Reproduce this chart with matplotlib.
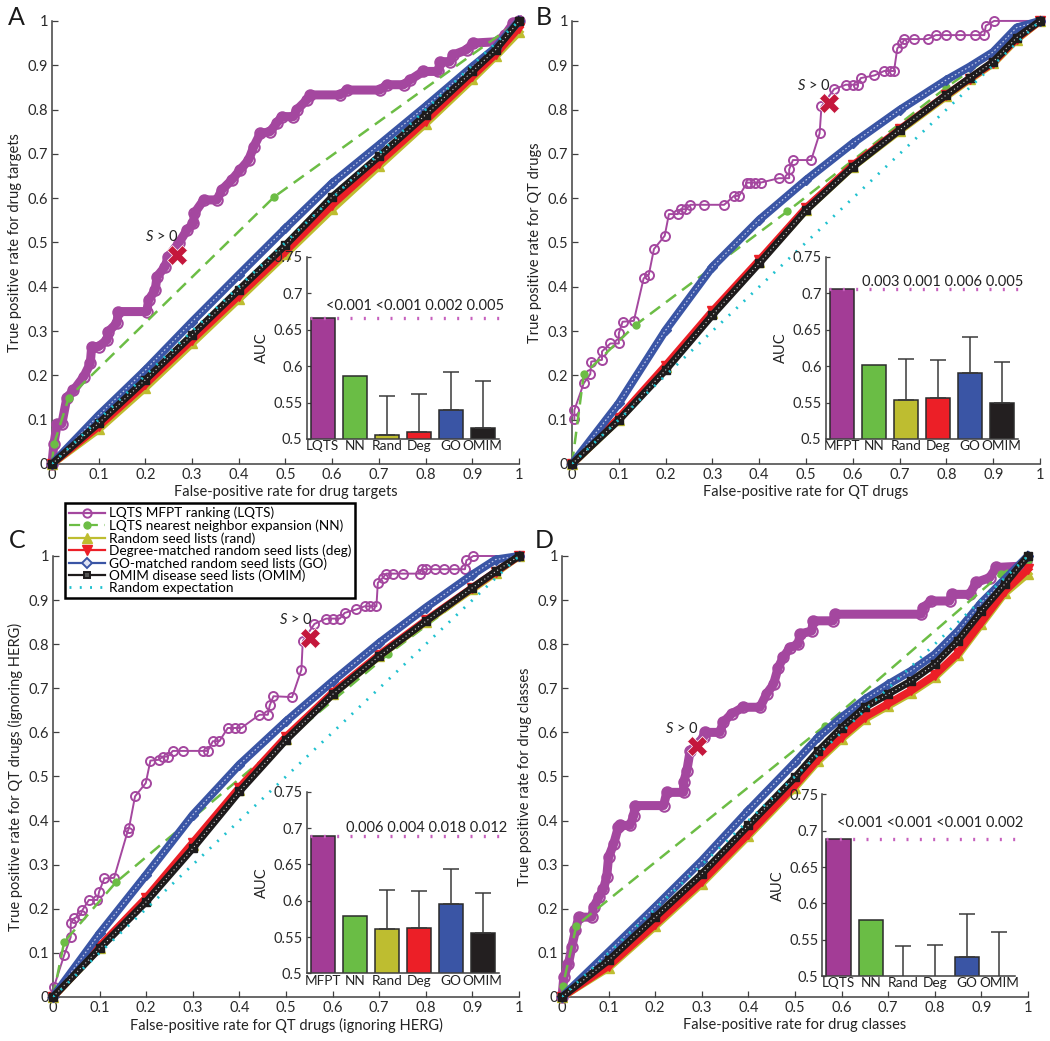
import matplotlib
matplotlib.use("Agg")
import matplotlib.pyplot as plt
from matplotlib.lines import Line2D
import numpy as np

plt.rcParams["font.family"] = ["Lato", "DejaVu Sans"]
plt.rcParams["mathtext.fontset"] = "custom"
plt.rcParams["mathtext.it"] = "Lato:italic"
plt.rcParams["mathtext.rm"] = "Lato"

# ---------------- data ----------------
TICKS = [0, 0.1, 0.2, 0.3, 0.4, 0.5, 0.6, 0.7, 0.8, 0.9, 1.0]
AUC_TICKS = [0.5, 0.55, 0.6, 0.65, 0.7, 0.75]

# Panel A - drug targets
A_FPR = [0, 0.1, 0.2, 0.3, 0.4, 0.5, 0.6, 0.7, 0.8, 0.9, 0.95, 1.0]
A_GO = [0, .11, .212, .321, .427, .532, .634, .72, .807, .897, .94, 1.0]
A_OMIM = [0, .092, .19, .291, .393, .494, .603, .694, .788, .886, .935, 1.0]
A_DEG = [0, .085, .18, .28, .38, .48, .585, .68, .775, .875, .925, .985]
A_RAND = [0, .078, .172, .272, .372, .473, .575, .672, .768, .868, .92, .975]
A_LQTS_X = [0, .004, .011, .021, .032, .046, .068, .082, .085, .10, .118, .121, .139, .142,
            .203, .207, .221, .225, .242, .249, .271, .289, .303, .305, .325, .353, .364,
            .385, .403, .421, .432, .446, .467, .481, .492, .517, .524, .546, .553, .617,
            .631, .702, .717, .753, .767, .795, .827, .831, .852, .859, .888, .902, .952,
            .970, .988, 1.0]
A_LQTS_Y = [0, .044, .09, .09, .15, .166, .197, .227, .265, .265, .28, .299, .318, .344,
            .344, .37, .393, .423, .445, .468, .498, .528, .543, .566, .596, .596, .619,
            .641, .664, .686, .716, .746, .75, .769, .784, .784, .799, .822, .833, .833,
            .844, .844, .856, .856, .867, .886, .886, .908, .908, .923, .935, .95, .953,
            .968, .995, 1.0]
A_NN_X = [0, .004, .036, .476, 1.0]
A_NN_Y = [0, .044, .15, .603, 1.0]
A_CROSS = (.267, .472)

# Panel B - QT drugs
B_FPR = [0, 0.1, 0.2, 0.3, 0.4, 0.5, 0.6, 0.7, 0.8, 0.85, 0.9, 0.95, 1.0]
B_GO = [0, .137, .302, .445, .551, .641, .724, .799, .867, .897, .93, .985, 1.0]
B_OMIM = [0, .099, .212, .336, .453, .573, .671, .754, .833, .871, .908, .962, 1.0]
B_DEG = [0, .104, .222, .345, .46, .578, .674, .755, .833, .87, .906, .96, 1.0]
B_RAND = [0, .1, .218, .34, .456, .574, .671, .752, .83, .868, .904, .958, 1.0]
B_LQTS_X = [.005, .005, .025, .039, .041, .064, .064, .082, .1, .1, .108, .132, .153, .164,
            .175, .198, .207, .226, .232, .243, .253, .282, .325, .346, .357, .374, .38,
            .39, .403, .442, .464, .464, .472, .511, .529, .533, .560, .585, .60, .610,
            .617, .646, .667, .68, .688, .695, .706, .71, .73, .76, .777, .80, .83, .86,
            .881, .884, .902, 1.0]
B_LQTS_Y = [.101, .122, .182, .203, .231, .235, .254, .272, .272, .295, .321, .323, .419,
            .427, .485, .515, .564, .564, .575, .575, .585, .585, .585, .605, .605, .635,
            .635, .635, .635, .645, .645, .665, .686, .686, .746, .807, .846, .856, .856,
            .856, .871, .877, .887, .887, .887, .938, .950, .959, .959, .959, .968, .968,
            .968, .968, .968, .989, 1.0, 1.0]
B_NN_X = [0, .025, .136, .46, .80, 1.0]
B_NN_Y = [0, .202, .314, .57, .85, 1.0]
B_CROSS = (.549, .814)

# Panel C - QT drugs ignoring HERG
C_FPR = [0, 0.1, 0.2, 0.3, 0.4, 0.5, 0.6, 0.7, 0.8, 0.9, 0.95, 1.0]
C_GO = [0, .144, .277, .413, .527, .625, .716, .803, .883, .958, .992, 1.0]
C_OMIM = [0, .11, .216, .337, .466, .583, .686, .773, .852, .928, .965, 1.0]
C_DEG = [0, .115, .225, .35, .475, .59, .69, .776, .854, .928, .964, 1.0]
C_RAND = [0, .112, .22, .345, .47, .586, .687, .773, .851, .925, .962, 1.0]
C_LQTS_X = [.002, .024, .038, .038, .045, .059, .063, .077, .095, .099, .11, .131, .16,
            .163, .176, .199, .209, .228, .235, .246, .257, .278, .321, .332, .343, .357,
            .375, .39, .404, .443, .461, .465, .473, .513, .533, .536, .561, .586, .60,
            .615, .626, .651, .669, .68, .694, .697, .708, .715, .73, .75, .787, .791,
            .80, .82, .84, .86, .884, .887, .902, 1.0]
C_LQTS_Y = [.023, .095, .136, .167, .178, .186, .197, .22, .22, .239, .269, .27, .375,
            .383, .455, .485, .536, .538, .545, .545, .558, .558, .558, .558, .58, .58,
            .61, .61, .61, .64, .64, .661, .682, .68, .742, .807, .846, .858, .858, .858,
            .871, .879, .886, .886, .886, .939, .951, .96, .96, .96, .96, .97, .97, .97,
            .97, .97, .97, .99, 1.0, 1.0]
C_NN_X = [0, .024, .135, .719, 1.0]
C_NN_Y = [0, .125, .26, .777, 1.0]
C_CROSS = (.552, .814)

# Panel D - drug classes
D_FPR = [0, .1, .2, .3, .4, .5, .55, .6, .65, .7, .75, .8, .85, .9, .95, 1.0]
D_GO = [0, .102, .204, .309, .423, .532, .589, .634, .675, .709, .74, .777, .83, .894, .947, 1.0]
D_OMIM = [0, .083, .181, .279, .389, .498, .558, .611, .657, .687, .717, .755, .808, .875, .936, 1.0]
D_DEG = [0, .07, .165, .262, .37, .48, .54, .59, .635, .665, .695, .73, .78, .85, .92, .97]
D_RAND = [0, .066, .16, .257, .365, .475, .535, .585, .63, .66, .69, .725, .775, .845, .915, .96]
D_LQTS_X = [0, .004, .014, .021, .029, .036, .064, .068, .079, .089, .096, .1, .111, .121,
            .125, .146, .154, .157, .218, .225, .261, .261, .268, .275, .304, .307, .339,
            .346, .364, .389, .425, .439, .454, .464, .475, .489, .507, .511, .536, .539,
            .582, .586, .771, .775, .793, .832, .836, .875, .889, .918, .932, .986, .996]
D_LQTS_Y = [0, .045, .075, .113, .151, .181, .181, .204, .226, .245, .272, .317, .347, .385,
            .389, .389, .411, .434, .434, .464, .464, .487, .513, .558, .589, .6, .6, .623,
            .642, .657, .657, .687, .709, .747, .77, .792, .8, .823, .83, .853, .853, .868,
            .868, .883, .898, .898, .913, .913, .94, .951, .974, .977, .989]
D_NN_X = [0, .002, .031, .564, .943, 1.0]
D_NN_Y = [0, .026, .162, .615, .96, .99]
D_CROSS = (.289, .568)

# inset AUC bars (bar value, top of error bar)
LABELS_LQTS = ["LQTS", "NN", "Rand", "Deg", "GO", "OMIM"]
LABELS_MFPT = ["MFPT", "NN", "Rand", "Deg", "GO", "OMIM"]
A_AUC = [.666, .587, .505, .510, .540, .515]
A_ERR = [.559, .562, .592, .580]
A_P = "<0.001 <0.001 0.002 0.005"
B_AUC = [.706, .602, .554, .556, .590, .550]
B_ERR = [.610, .608, .640, .606]
B_P = "0.003 0.001 0.006 0.005"
C_AUC = [.689, .579, .561, .563, .596, .556]
C_ERR = [.615, .613, .644, .611]
C_P = "0.006 0.004 0.018 0.012"
D_AUC = [.689, .577, .49, .49, .526, .49]
D_ERR = [.542, .543, .586, .560]
D_P = "<0.001 <0.001 <0.001 0.002"

# ---------------- style ----------------
PURPLE = "#a4479f"
GREEN = "#6cbd45"
OLIVE = "#bebd30"
RED = "#ec1f27"
BLUE = "#3a55a5"
BLACK = "#1e1b1c"
CYAN = "#1fc1cf"
CROSS_RED = "#c4173c"
BAR_COLORS = ["#a33c96", "#6abd45", OLIVE, RED, BLUE, "#231f20"]
AX_COLOR = "#404040"


def draw_roc(ax, fpr, rand, deg, go, omim, lx, ly, nx, ny, cross, dense, xlabel, ylabel):
    if dense:
        ax.plot(lx, ly, color=PURPLE, lw=6.5, marker="o", ms=7.5, mfc="none", mec=PURPLE,
                mew=1.5, solid_joinstyle="round", zorder=3, clip_on=False)
    else:
        ax.plot(lx, ly, color=PURPLE, lw=1.4, marker="o", ms=6.5, mfc="none", mec=PURPLE,
                mew=1.4, zorder=3, clip_on=False)
    ax.plot(nx, ny, color=GREEN, lw=1.8, ls=(0, (5, 3)), marker="o", ms=5, mfc=GREEN,
            mec=GREEN, zorder=4, clip_on=False)
    ax.plot(fpr, rand, color=OLIVE, lw=5.5, marker="^", ms=6.5, zorder=5, clip_on=False)
    ax.plot(fpr, deg, color=RED, lw=5.5, marker="v", ms=6.5, zorder=6, clip_on=False)
    ax.plot(fpr, go, color=BLUE, lw=5.8, marker="D", ms=5.5, zorder=7, clip_on=False)
    ax.plot(fpr, go, color="#c8d0ee", lw=0.8, ls=(0, (1.5, 2)), zorder=7, clip_on=False)
    ax.plot(fpr, omim, color=BLACK, lw=5.2, marker="s", ms=5.5, zorder=8, clip_on=False)
    ax.plot(fpr, omim, color="#d8d8d8", lw=0.8, ls=(0, (1, 2.5)), zorder=8, clip_on=False)
    ax.plot([0, 1], [0, 1], color=CYAN, lw=2, ls=(0, (0.7, 3)), zorder=9)

    ax.plot(cross[0], cross[1], marker="X", ms=14, color=CROSS_RED, mec="white", mew=0.5,
            zorder=11, clip_on=False)
    ax.text(cross[0] - 0.032, cross[1] + 0.041, r"$S$ > 0", fontsize=10.5, ha="center",
            va="center", color="#222222", zorder=11)

    ax.set_xlim(0, 1)
    ax.set_ylim(0, 1)
    ax.set_xticks(TICKS)
    ax.set_yticks(TICKS)
    ax.set_xticklabels([f"{t:g}" for t in TICKS])
    ax.set_yticklabels([f"{t:g}" for t in TICKS])
    ax.tick_params(direction="in", length=4, width=0.9, colors=AX_COLOR, labelsize=10.5,
                   labelcolor="#2a2a2a", pad=3)
    for s in ["top", "right"]:
        ax.spines[s].set_visible(False)
    for s in ["left", "bottom"]:
        ax.spines[s].set_color(AX_COLOR)
        ax.spines[s].set_linewidth(1.1)
    ax.set_xlabel(xlabel, fontsize=10.5, color="#222222", labelpad=2)
    ax.set_ylabel(ylabel, fontsize=10.5, color="#222222", labelpad=4)


def draw_inset(fig, rect, labels, auc, err, ptext, px, py):
    ax = fig.add_axes(rect)
    pos = np.arange(1, 7)
    ax.bar(pos, auc, width=0.75, color=BAR_COLORS, edgecolor="#2b2b2b", linewidth=1.1,
           zorder=2)
    vals = np.array(auc[2:])
    tops = np.array(err)
    ax.errorbar(pos[2:], vals, yerr=[np.zeros(4), tops - vals], fmt="none",
                ecolor="#3a3a3a", elinewidth=1.1, capsize=6, capthick=1.1, zorder=3)
    ax.plot([0.6, 6.5], [auc[0], auc[0]], color="#c65fbd", lw=2.4, ls=(0, (0.6, 3.4)),
            zorder=4, clip_on=False)
    ax.text(px, py, ptext, ha="right", va="center", fontsize=10.5, color="#222222")

    ax.set_xlim(0.5, 6.5)
    ax.set_ylim(0.5, 0.75)
    ax.set_xticks(pos)
    ax.set_xticklabels(labels)
    ax.set_yticks(AUC_TICKS)
    ax.set_yticklabels([f"{t:g}" for t in AUC_TICKS])
    ax.tick_params(axis="x", length=0, pad=1, labelsize=9.8, labelcolor="#222222")
    ax.tick_params(axis="y", direction="in", length=3, width=0.9, colors=AX_COLOR,
                   labelsize=10.5, labelcolor="#2a2a2a", pad=3)
    for s in ["top", "right"]:
        ax.spines[s].set_visible(False)
    for s in ["left", "bottom"]:
        ax.spines[s].set_color(AX_COLOR)
        ax.spines[s].set_linewidth(1.1)
    ax.set_ylabel("AUC", fontsize=10.5, color="#222222", labelpad=3)
    return ax


def main():
    fig = plt.figure(figsize=(10.5, 10.41), dpi=100)

    ax_a = fig.add_axes([0.0495, 0.5543, 0.4448, 0.4256])
    ax_b = fig.add_axes([0.5448, 0.5543, 0.4457, 0.4256])
    ax_c = fig.add_axes([0.0505, 0.0423, 0.4438, 0.4236])
    ax_d = fig.add_axes([0.5352, 0.0423, 0.4438, 0.4236])

    draw_roc(ax_a, A_FPR, A_RAND, A_DEG, A_GO, A_OMIM, A_LQTS_X, A_LQTS_Y, A_NN_X, A_NN_Y,
             A_CROSS, True, "False-positive rate for drug targets",
             "True positive rate for drug targets")
    draw_roc(ax_b, B_FPR, B_RAND, B_DEG, B_GO, B_OMIM, B_LQTS_X, B_LQTS_Y, B_NN_X, B_NN_Y,
             B_CROSS, False, "False-positive rate for QT drugs",
             "True positive rate for QT drugs")
    draw_roc(ax_c, C_FPR, C_RAND, C_DEG, C_GO, C_OMIM, C_LQTS_X, C_LQTS_Y, C_NN_X, C_NN_Y,
             C_CROSS, False, "False-positive rate for QT drugs (ignoring HERG)",
             "True positive rate for QT drugs (ignoring HERG)")
    draw_roc(ax_d, D_FPR, D_RAND, D_DEG, D_GO, D_OMIM, D_LQTS_X, D_LQTS_Y, D_NN_X, D_NN_Y,
             D_CROSS, True, "False-positive rate for drug classes",
             "True positive rate for drug classes")

    draw_inset(fig, [0.2921, 0.5783, 0.1829, 0.1751], LABELS_LQTS, A_AUC, A_ERR, A_P, 6.66, 0.682)
    draw_inset(fig, [0.7864, 0.5783, 0.1829, 0.1751], LABELS_MFPT, B_AUC, B_ERR, B_P, 6.67, 0.716)
    draw_inset(fig, [0.2921, 0.0650, 0.1829, 0.1745], LABELS_MFPT, C_AUC, C_ERR, C_P, 6.75, 0.700)
    draw_inset(fig, [0.7833, 0.0624, 0.1838, 0.1745], LABELS_LQTS, D_AUC, D_ERR, D_P, 6.74, 0.711)

    for letter, x, y in [("A", 0.016, 0.983), ("B", 0.518, 0.983), ("C", 0.016, 0.481),
                         ("D", 0.518, 0.481)]:
        fig.text(x, y, letter, fontsize=18, ha="center", va="center", color="#1a1a1a")

    handles = [
        Line2D([], [], color=PURPLE, lw=1.6, marker="o", ms=6, mfc="none", mew=1.4),
        Line2D([], [], color=GREEN, lw=1.6, ls=(0, (5, 3)), marker="o", ms=5),
        Line2D([], [], color=OLIVE, lw=1.6, marker="^", ms=7),
        Line2D([], [], color=RED, lw=1.6, marker="v", ms=7),
        Line2D([], [], color=BLUE, lw=1.6, marker="D", ms=5, mfc="#dfe3f3", mew=1.4),
        Line2D([], [], color=BLACK, lw=1.6, marker="s", ms=5, mfc="#555555", mew=1.4),
        Line2D([], [], color=CYAN, lw=2, ls=(0, (0.7, 3))),
    ]
    names = [
        "LQTS MFPT ranking (LQTS)",
        "LQTS nearest neighbor expansion (NN)",
        "Random seed lists (rand)",
        "Degree-matched random seed lists (deg)",
        "GO-matched random seed lists (GO)",
        "OMIM disease seed lists (OMIM)",
        "Random expectation",
    ]
    leg = fig.legend(handles, names, loc="upper left", bbox_to_anchor=(0.062, 0.517),
                     fontsize=9.8, frameon=True, fancybox=False, borderpad=0.3,
                     handlelength=2.6, handletextpad=0.3, labelspacing=0.0,
                     borderaxespad=0)
    leg.get_frame().set_edgecolor("black")
    leg.get_frame().set_linewidth(1.8)
    leg.get_frame().set_alpha(1)
    leg.set_zorder(20)

    fig.savefig("out.png", dpi=100)
    plt.close(fig)


if __name__ == "__main__":
    main()
